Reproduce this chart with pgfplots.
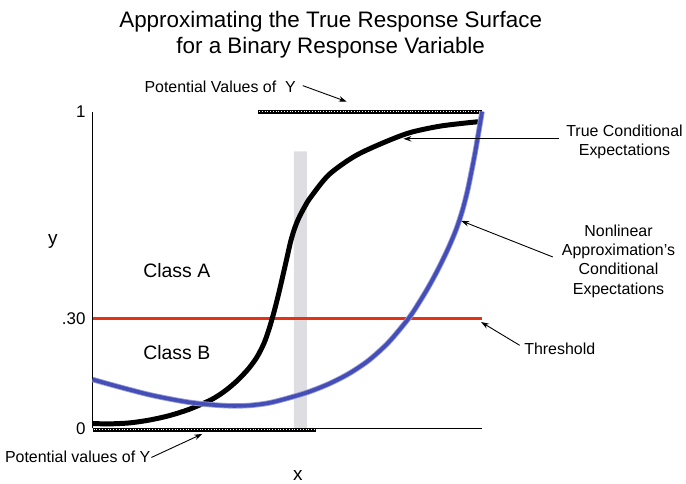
\documentclass[border=0pt]{standalone}
\usepackage{pgfplots}
\pgfplotsset{compat=1.18}
\usepackage{fontspec}
\setmainfont{Liberation Sans}
\usetikzlibrary{arrows.meta}
\definecolor{approxblue}{RGB}{68,78,182}
\definecolor{threshred}{RGB}{228,50,20}
\definecolor{bargray}{RGB}{222,222,226}
\newcommand\lbl{\fontsize{16}{19.5}\selectfont}
\begin{document}
\begin{tikzpicture}[arr/.style={-{Stealth[length=8pt,width=5.5pt]}, line width=0.9pt}]
\pgfplotstableread{
x y
93 0.015
110 0.014
130 0.017
150 0.026
170 0.040
190 0.060
210 0.087
220 0.105
230 0.128
240 0.156
250 0.190
258 0.225
265 0.268
270 0.312
275 0.366
280 0.428
284 0.482
288 0.537
292 0.592
296 0.633
300 0.664
306 0.700
312 0.730
330 0.800
355 0.857
380 0.895
410 0.932
440 0.953
465 0.963
484 0.969
}\truecurve
\pgfplotstableread{
x y
93 0.154
110 0.139
130 0.122
150 0.106
170 0.093
190 0.082
210 0.075
230 0.071
250 0.072
270 0.080
290 0.096
310 0.115
330 0.140
350 0.172
370 0.214
390 0.271
410 0.346
420 0.393
430 0.445
440 0.503
450 0.568
458 0.628
464 0.685
469 0.745
473 0.805
477 0.870
480 0.925
482 0.962
484 1.0
}\approxcurve
\begin{axis}[
  width=391pt, height=318pt, scale only axis,
  xmin=93, xmax=484, ymin=0, ymax=1,
  axis x line=bottom, axis y line=left,
  axis line style={-, line width=0.9pt, black},
  xtick=\empty, ytick={0,0.3475,1}, yticklabels={0,.30,1},
  major tick length=0pt,
  yticklabel style={font=\fontsize{17}{20}\selectfont, inner sep=0pt, xshift=-7pt},
  /pgf/number format/assume math mode=true,
  clip=false,
]
% page frame in pixel units of the reference
\path (axis cs:0,1.3522) rectangle (axis cs:686,-0.1667);
% grey band
\addplot[fill=bargray, draw=none] coordinates {(295,0) (295,0.874) (308,0.874) (308,0)} \closedcycle;
% potential values of Y (rough black bars)
\addplot[black, line width=4pt] coordinates {(259,1) (484,1)};
\addplot[white, line width=1pt, dash pattern=on 0.5pt off 2.3pt] coordinates {(260,1) (483,1)};
\addplot[black, line width=4pt] coordinates {(93,-0.004) (317,-0.004)};
\addplot[white, line width=1pt, dash pattern=on 0.5pt off 2.3pt] coordinates {(94,-0.004) (316,-0.004)};
% threshold
\addplot[threshred, line width=3.2pt] coordinates {(93,0.3475) (484,0.3475)};
% true conditional expectations
\addplot[black, line width=5pt, smooth, tension=0.5] table {\truecurve};
% nonlinear approximation
\addplot[approxblue!55, line width=5.5pt, smooth, tension=0.5] table {\approxcurve};
\addplot[approxblue, line width=3.8pt, smooth, tension=0.5] table {\approxcurve};
% titles and labels
\node[font=\fontsize{22.5}{26}\selectfont] at (axis cs:332,1.2830) {Approximating the True Response Surface};
\node[font=\fontsize{22.5}{26}\selectfont] at (axis cs:332,1.2013) {for a Binary Response Variable};
\node[font=\fontsize{19}{22}\selectfont] at (axis cs:53,0.5912) {y};
\node[font=\fontsize{19}{22}\selectfont] at (axis cs:299,-0.1478) {x};
\node[font=\fontsize{19.5}{22}\selectfont] at (axis cs:177.5,0.4969) {Class A};
\node[font=\fontsize{19.5}{22}\selectfont] at (axis cs:177.5,0.2390) {Class B};
\node[font=\lbl] at (axis cs:221,1.0786) {Potential Values of\ \ Y};
\draw[arr] (axis cs:304,1.0818) -- (axis cs:348,1.0314);
\node[font=\lbl] at (axis cs:78,-0.0912) {Potential values of Y};
\draw[arr] (axis cs:152,-0.0921) -- (axis cs:203,-0.0179);
\node[font=\lbl, align=center] at (axis cs:627,0.904) {True Conditional\\Expectations};
\draw[arr] (axis cs:561.7,0.914) -- (axis cs:405,0.914);
\node[font=\lbl, align=center] at (axis cs:621,0.528) {Nonlinear\\Approximation’s\\Conditional\\Expectations};
\draw[arr] (axis cs:555,0.5409) -- (axis cs:463,0.6550);
\node[font=\lbl] at (axis cs:562,0.2516) {Threshold};
\draw[arr] (axis cs:521.7,0.262) -- (axis cs:483,0.3355);
\end{axis}
\end{tikzpicture}
\end{document}
